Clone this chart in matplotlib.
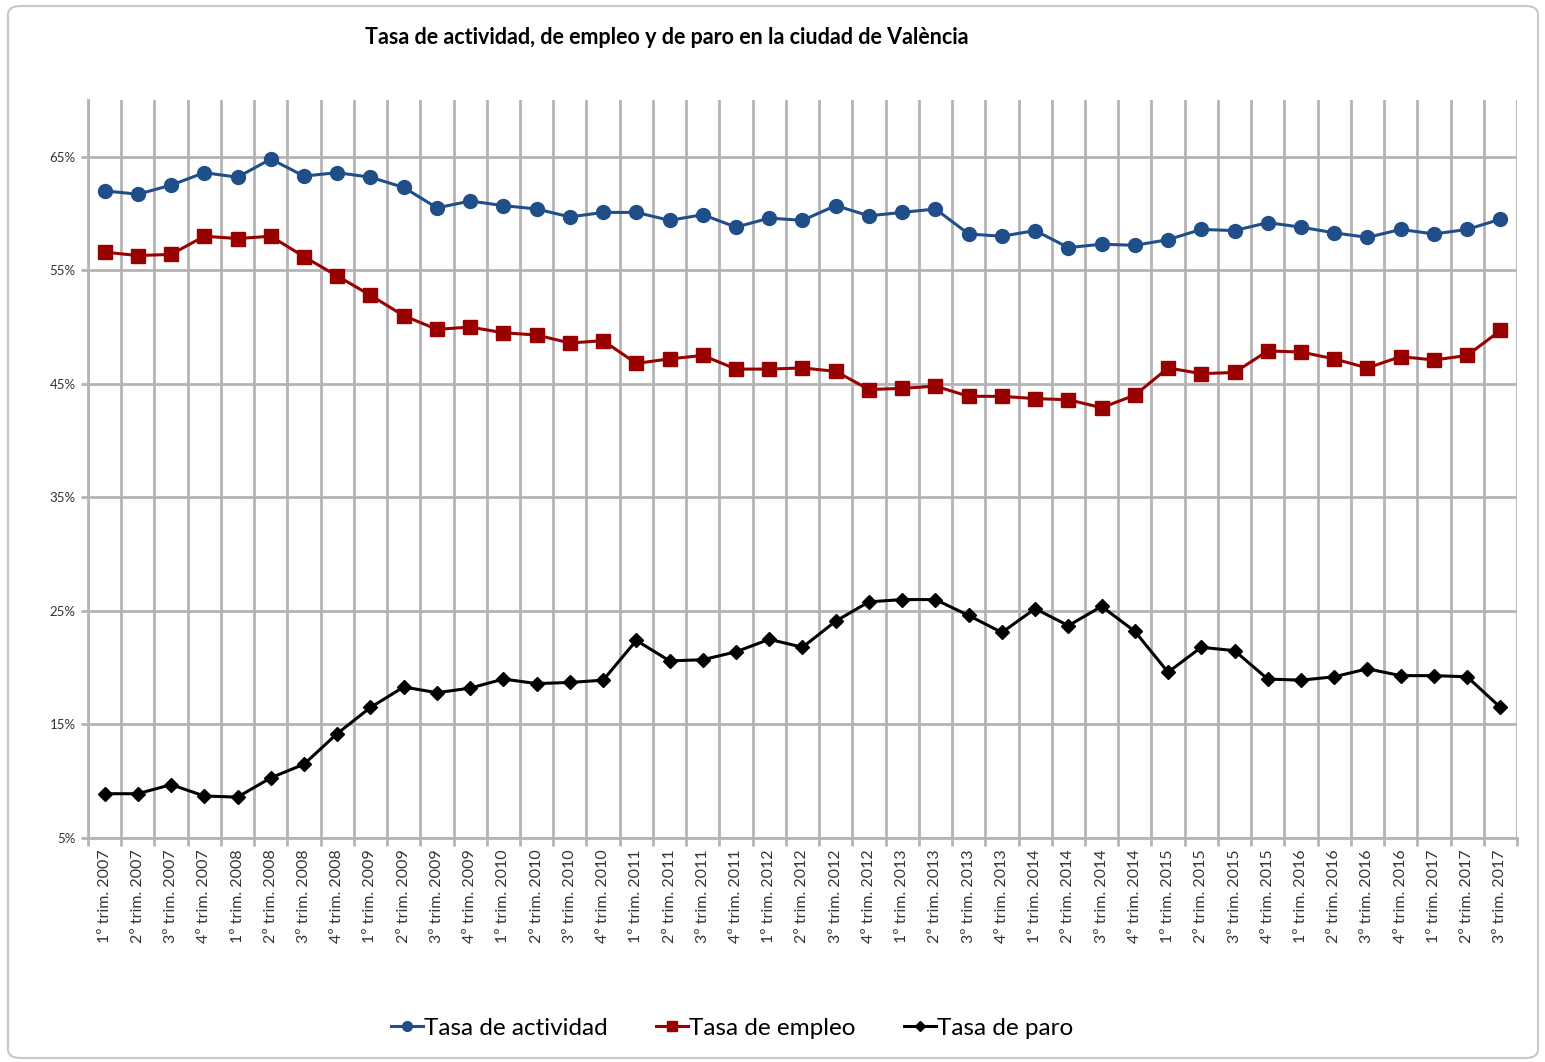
import matplotlib.pyplot as plt
from matplotlib.patches import FancyBboxPatch
from matplotlib.ticker import FixedLocator, PercentFormatter

plt.rcParams['font.family'] = ['Lato', 'DejaVu Sans']

# trimestres 2007 T1 .. 2017 T3
years = [2007] * 4 + [y for y in range(2008, 2017) for _ in range(4)] + [2017] * 3
quarters = [1, 2, 3, 4] * 10 + [1, 2, 3]
labels = [f"{q}º trim. {y}" for q, y in zip(quarters, years)]

actividad = [62.0, 61.7, 62.5, 63.6, 63.2, 64.8, 63.3, 63.6, 63.2, 62.3,
             60.5, 61.1, 60.7, 60.4, 59.7, 60.1, 60.1, 59.4, 59.9, 58.8,
             59.6, 59.4, 60.7, 59.8, 60.1, 60.4, 58.2, 58.0, 58.5, 57.0,
             57.3, 57.2, 57.7, 58.6, 58.5, 59.2, 58.8, 58.3, 57.9, 58.6,
             58.2, 58.6, 59.5]
empleo = [56.6, 56.3, 56.4, 58.0, 57.8, 58.0, 56.2, 54.5, 52.8, 51.0,
          49.8, 50.0, 49.5, 49.3, 48.6, 48.8, 46.8, 47.2, 47.5, 46.3,
          46.3, 46.4, 46.1, 44.5, 44.6, 44.8, 43.9, 43.9, 43.7, 43.6,
          42.9, 44.0, 46.4, 45.9, 46.0, 47.9, 47.8, 47.2, 46.4, 47.4,
          47.1, 47.5, 49.7]
paro = [8.9, 8.9, 9.7, 8.7, 8.6, 10.3, 11.5, 14.2, 16.5, 18.3,
        17.8, 18.2, 19.0, 18.6, 18.7, 18.9, 22.4, 20.6, 20.7, 21.4,
        22.5, 21.8, 24.1, 25.8, 26.0, 26.0, 24.6, 23.1, 25.2, 23.7,
        25.4, 23.2, 19.6, 21.8, 21.5, 19.0, 18.9, 19.2, 19.9, 19.3,
        19.3, 19.2, 16.5]

fig = plt.figure(figsize=(15.45, 10.62), dpi=100)
ax = fig.add_axes([88 / 1545, 1 - 838 / 1062, (1517 - 88) / 1545, (838 - 100) / 1062])

# marco redondeado
fig.patches.append(FancyBboxPatch((8 / 1545, 4 / 1062), 1530 / 1545, 1052 / 1062,
                                  boxstyle="round,pad=0,rounding_size=0.008",
                                  transform=fig.transFigure, fill=False,
                                  edgecolor="#c8c8c8", linewidth=1.5))

x = list(range(len(labels)))
ax.plot(x, actividad, color="#1f4e89", marker="o", markersize=10, linewidth=2.2,
        label="Tasa de actividad")
ax.plot(x, empleo, color="#990000", marker="s", markersize=9.5, linewidth=2.2,
        label="Tasa de empleo")
ax.plot(x, paro, color="black", marker="D", markersize=7.5, linewidth=2.2,
        label="Tasa de paro")

ax.set_xlim(-0.5, len(labels) - 0.5)
ax.set_ylim(5, 70)
ax.set_yticks(range(5, 66, 10))
ax.yaxis.set_major_formatter(PercentFormatter(decimals=0))
ax.set_xticks(x)
ax.set_xticklabels(labels, rotation=90, fontsize=11.5, color="#333333")
ax.xaxis.set_minor_locator(FixedLocator([i - 0.5 for i in range(len(labels) + 1)]))

grid_c = "#b4b4b4"
ax.grid(True, axis="y", color=grid_c, linewidth=2)
ax.grid(True, axis="x", which="minor", color=grid_c, linewidth=2)
ax.tick_params(axis="x", which="major", length=0, pad=8)
ax.tick_params(axis="x", which="minor", length=6, width=2, color=grid_c)
ax.tick_params(axis="y", length=5, width=2, color=grid_c, labelsize=9.5,
               labelcolor="#333333", pad=4)
for s in ["top", "right"]:
    ax.spines[s].set_visible(False)
for s in ["left", "bottom"]:
    ax.spines[s].set_color(grid_c)
    ax.spines[s].set_linewidth(2)
ax.set_axisbelow(True)

fig.text(667 / 1545, 1 - 38 / 1062, "Tasa de actividad, de empleo y de paro en la ciudad de València",
         ha="center", va="center", fontsize=15.5, fontweight="bold")

fig.legend(loc="center", bbox_to_anchor=(732 / 1545, 1 - 1028 / 1062), ncol=3,
           frameon=False, fontsize=17.5, handlelength=1.3, handletextpad=0.05,
           columnspacing=2.0, markerscale=0.7)

fig.savefig("out.png", dpi=100)
